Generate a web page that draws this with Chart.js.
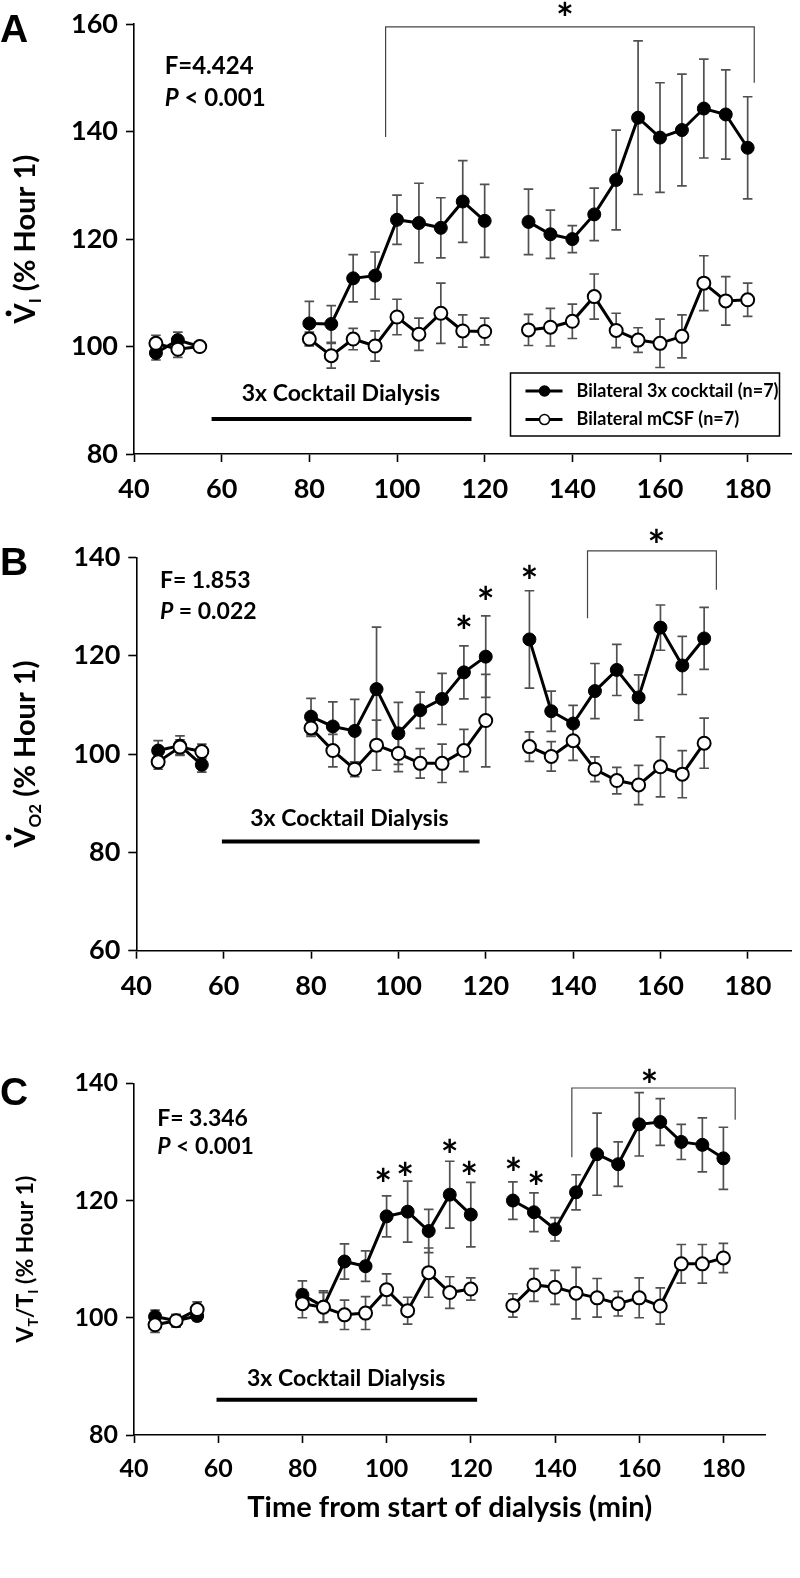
<!DOCTYPE html>
<html>
<head>
<meta charset="utf-8">
<script src="https://cdn.jsdelivr.net/npm/chart.js@4.4.1/dist/chart.umd.min.js"></script>
<style>
  html, body { margin: 0; padding: 0; background: #fff; }
  body { width: 800px; height: 1578px; position: relative; overflow: hidden; }
  canvas { position: absolute; left: 0; }
</style>
</head>
<body>
<canvas id="panelA" width="800" height="505" style="top:0px"></canvas>
<canvas id="panelB" width="800" height="510" style="top:505px"></canvas>
<canvas id="panelC" width="800" height="563" style="top:1015px"></canvas>
<script>
// ── data (% of hour 1, mean ± SE) ──────────────────────────────────
const xTicks = [40, 60, 80, 100, 120, 140, 160, 180];

const timeA = [45, 50, 55, 80, 85, 90, 95, 100, 105, 110, 115, 120, 130, 135, 140, 145, 150, 155, 160, 165, 170, 175, 180];
const cocktailA    = [98.8, 101.2, 100.0, 104.3, 104.2, 112.7, 113.2, 123.6, 123.0, 122.1, 127.0, 123.4, 123.2, 120.9, 120.0, 124.6, 131.0, 142.6, 138.9, 140.3, 144.3, 143.2, 137.0];
const cocktailErrA = [1.3, 1.5, 0.5, 4.1, 3.4, 4.4, 4.4, 4.6, 7.4, 5.6, 7.6, 6.8, 6.1, 4.5, 2.5, 4.9, 9.3, 14.3, 10.2, 10.4, 9.2, 8.3, 9.5];
const mcsfA        = [100.6, 99.5, 100.0, 101.4, 98.3, 101.4, 100.1, 105.5, 102.3, 106.2, 102.9, 102.8, 103.1, 103.6, 104.7, 109.3, 103.0, 101.2, 100.6, 101.9, 111.8, 108.5, 108.7];
const mcsfErrA     = [1.5, 1.5, 0.3, 1.3, 2.3, 2.0, 2.8, 3.3, 3.0, 5.6, 3.0, 2.5, 2.9, 3.5, 3.2, 4.2, 3.2, 2.3, 4.5, 4.0, 5.1, 4.5, 3.1];
const yTicksA = [80, 100, 120, 140, 160];

const timeB = [45, 50, 55, 80, 85, 90, 95, 100, 105, 110, 115, 120, 130, 135, 140, 145, 150, 155, 160, 165, 170];
const cocktailB    = [100.7, 101.7, 97.8, 107.6, 105.6, 104.7, 113.2, 104.2, 108.9, 111.2, 116.6, 119.8, 123.3, 108.7, 106.2, 112.8, 117.1, 111.5, 125.7, 118.0, 123.5];
const cocktailErrB = [2.0, 2.0, 1.5, 3.7, 5.0, 6.4, 12.6, 6.3, 3.7, 5.2, 5.4, 8.3, 9.9, 4.1, 3.7, 5.6, 5.2, 4.6, 4.6, 5.9, 6.3];
const mcsfB        = [98.4, 101.4, 100.5, 105.3, 100.7, 96.9, 101.8, 100.1, 98.1, 98.1, 100.7, 106.8, 101.5, 99.5, 102.7, 96.9, 94.6, 93.7, 97.4, 95.9, 102.2];
const mcsfErrB     = [1.5, 1.5, 1.5, 1.7, 3.3, 1.5, 5.1, 3.7, 3.0, 3.9, 4.3, 9.4, 3.0, 3.0, 4.0, 2.5, 2.7, 4.0, 6.1, 4.8, 5.1];
const yTicksB = [60, 80, 100, 120, 140];

const timeC = [45, 50, 55, 80, 85, 90, 95, 100, 105, 110, 115, 120, 130, 135, 140, 145, 150, 155, 160, 165, 170, 175, 180];
const cocktailC    = [100.2, 99.5, 100.3, 103.9, 101.9, 109.6, 108.8, 117.3, 118.1, 114.8, 121.0, 117.6, 120.0, 118.0, 115.1, 121.4, 127.9, 126.2, 133.0, 133.4, 130.0, 129.5, 127.2];
const cocktailErrC = [1.1, 1.1, 0.8, 2.4, 2.7, 3.0, 2.6, 3.5, 5.2, 3.7, 5.7, 5.5, 3.2, 3.3, 2.0, 3.0, 7.0, 3.8, 5.4, 4.0, 3.0, 4.6, 5.3];
const mcsfC        = [98.8, 99.5, 101.4, 102.4, 101.8, 100.5, 100.8, 104.8, 101.2, 107.7, 104.3, 104.9, 102.1, 105.6, 105.2, 104.2, 103.4, 102.4, 103.4, 102.0, 109.2, 109.2, 110.2];
const mcsfErrC     = [1.3, 1.0, 1.3, 2.4, 2.5, 2.5, 2.8, 2.7, 2.3, 4.2, 2.7, 1.9, 2.0, 2.8, 2.9, 4.4, 3.3, 2.1, 3.4, 3.1, 3.3, 3.3, 2.5];
const yTicksC = [80, 100, 120, 140];

const FONT = "Lato, 'Open Sans', sans-serif";

// points with a null break where sampling pauses (gap > 5 min)
function buildPoints(times, vals, errs) {
  const pts = [];
  times.forEach((t, i) => {
    if (i > 0 && t - times[i - 1] > 5) pts.push({ x: (t + times[i - 1]) / 2, y: null, err: 0 });
    pts.push({ x: t, y: vals[i], err: errs[i] });
  });
  return pts;
}

// ── error bars behind the lines ───────────────────────────────────
const errorBars = {
  id: "errorBars",
  beforeDatasetsDraw(chart) {
    const ctx = chart.ctx, ys = chart.scales.y;
    ctx.save();
    ctx.strokeStyle = "#505050";
    ctx.lineWidth = 1.7;
    chart.data.datasets.forEach((ds, di) => {
      chart.getDatasetMeta(di).data.forEach((el, i) => {
        const p = ds.data[i];
        if (p.y == null) return;
        const top = ys.getPixelForValue(p.y + p.err), bot = ys.getPixelForValue(p.y - p.err);
        ctx.beginPath();
        ctx.moveTo(el.x, top); ctx.lineTo(el.x, bot);
        ctx.moveTo(el.x - 4.8, top); ctx.lineTo(el.x + 4.8, top);
        ctx.moveTo(el.x - 4.8, bot); ctx.lineTo(el.x + 4.8, bot);
        ctx.stroke();
      });
    });
    ctx.restore();
  }
};

function drawStar(ctx, x, y, size) {
  ctx.font = `bold ${size}px ${FONT}`;
  ctx.textAlign = "center";
  ctx.textBaseline = "alphabetic";
  ctx.fillText("*", x, y + size * 0.57);
}

function drawParts(ctx, parts, x, y, size) {
  ctx.textAlign = "left";
  ctx.textBaseline = "middle";
  parts.forEach(p => {
    ctx.font = `${p.i ? "italic " : ""}bold ${size}px ${FONT}`;
    ctx.fillText(p.t, x, y);
    x += ctx.measureText(p.t).width;
  });
}

function drawYTitle(ctx, cx, cy, parts, size, dot) {
  ctx.save();
  ctx.translate(cx, cy);
  ctx.rotate(-Math.PI / 2);
  const sub = Math.round(size * 0.6);
  let total = 0;
  parts.forEach(p => {
    ctx.font = `bold ${p.sub ? sub : size}px ${FONT}`;
    p.w = ctx.measureText(p.t).width;
    total += p.w;
  });
  let x = -total / 2;
  const base = size * 0.36;
  ctx.textAlign = "left";
  ctx.textBaseline = "alphabetic";
  ctx.fillStyle = "#000";
  parts.forEach((p, i) => {
    ctx.font = `bold ${p.sub ? sub : size}px ${FONT}`;
    ctx.fillText(p.t, x, base + (p.sub ? size * 0.2 : 0));
    if (i === 0 && dot) {
      ctx.beginPath();
      ctx.arc(x + p.w / 2, base - size * 0.72 - 6, 2.9, 0, 2 * Math.PI);
      ctx.fill();
    }
    x += p.w;
  });
  ctx.restore();
}

// ── per-panel annotations (letters, stats, dialysis bar, asterisks) ─
function makeNotes(p) {
  return {
    id: "notes",
    afterDraw(chart) {
      const ctx = chart.ctx, xs = chart.scales.x, ys = chart.scales.y, a = chart.chartArea;
      const X = v => xs.getPixelForValue(v), Y = v => ys.getPixelForValue(v);
      ctx.save();
      ctx.fillStyle = "#000";

      ctx.font = "bold 39px 'Liberation Sans', Arial, sans-serif";
      ctx.textAlign = "left"; ctx.textBaseline = "alphabetic";
      ctx.fillText(p.letter, 0, p.letterY);

      drawYTitle(ctx, 25, (a.top + a.bottom) / 2, p.yTitle, p.yTitleSize, p.dot);

      drawParts(ctx, p.stats.line1, X(p.stats.x), Y(p.stats.y1), p.statSize);
      drawParts(ctx, p.stats.line2, X(p.stats.x), Y(p.stats.y2), p.statSize);

      // dialysis period
      ctx.strokeStyle = "#000"; ctx.lineWidth = 4;
      ctx.beginPath();
      ctx.moveTo(X(p.dialysis.x1), Y(p.dialysis.y));
      ctx.lineTo(X(p.dialysis.x2), Y(p.dialysis.y));
      ctx.stroke();
      ctx.font = `bold ${p.dialSize}px ${FONT}`;
      ctx.textAlign = "center"; ctx.textBaseline = "middle";
      ctx.fillText("3x Cocktail Dialysis", X(p.dialysis.tx), Y(p.dialysis.ty));

      p.stars.forEach(s => drawStar(ctx, X(s[0]), Y(s[1]), 42));

      const b = p.bracket;
      ctx.strokeStyle = "#444"; ctx.lineWidth = 1.2;
      ctx.beginPath();
      ctx.moveTo(X(b.x1), Y(b.left)); ctx.lineTo(X(b.x1), Y(b.top));
      ctx.lineTo(X(b.x2), Y(b.top)); ctx.lineTo(X(b.x2), Y(b.right));
      ctx.stroke();
      drawStar(ctx, X(b.sx), Y(b.sy), 42);

      if (p.legend) {
        const lx = a.right - 281, ly = a.bottom - 81;
        ctx.strokeStyle = "#000"; ctx.lineWidth = 1.5;
        ctx.strokeRect(lx, ly, 269, 63);
        chart.data.datasets.forEach((ds, i) => {
          const y = ly + 18 + i * 28.6;
          ctx.lineWidth = 3;
          ctx.beginPath(); ctx.moveTo(lx + 15, y); ctx.lineTo(lx + 52, y); ctx.stroke();
          ctx.beginPath(); ctx.arc(lx + 34, y, 5, 0, 2 * Math.PI);
          ctx.fillStyle = ds.pointBackgroundColor; ctx.fill();
          ctx.lineWidth = 1.5; ctx.stroke();
          ctx.fillStyle = "#000";
          ctx.font = `bold 18px ${FONT}`;
          ctx.textAlign = "left"; ctx.textBaseline = "middle";
          ctx.fillText(ds.label, lx + 66, y);
        });
      }
      ctx.restore();
    }
  };
}

function makePanel(id, p) {
  const axisLine = { display: true, color: "#000", width: 1.6 };
  const grid = { drawOnChartArea: false, drawTicks: true, tickLength: 8, tickWidth: 1.6, tickColor: "#000", color: "#000" };
  const tickFont = { family: FONT, size: p.tickSize, weight: "bold" };
  return new Chart(document.getElementById(id), {
    type: "line",
    data: {
      datasets: [
        {
          label: "Bilateral 3x cocktail (n=7)",
          data: buildPoints(p.times, p.cocktail, p.cocktailErr),
          borderColor: "#000", backgroundColor: "#000",
          pointBackgroundColor: "#000", pointBorderColor: "#000",
          pointRadius: 6.5, pointBorderWidth: 1, borderWidth: 3, order: 1
        },
        {
          label: "Bilateral mCSF (n=7)",
          data: buildPoints(p.times, p.mcsf, p.mcsfErr),
          borderColor: "#000", backgroundColor: "#fff",
          pointBackgroundColor: "#fff", pointBorderColor: "#000",
          pointRadius: 6.5, pointBorderWidth: 2, borderWidth: 3, order: 0
        }
      ]
    },
    options: {
      responsive: false, animation: false, spanGaps: false,
      layout: { padding: p.pad },
      plugins: { legend: { display: false }, tooltip: { enabled: false } },
      scales: {
        x: {
          type: "linear", min: 40, max: 190,
          afterBuildTicks: s => { s.ticks = xTicks.map(v => ({ value: v })); },
          afterFit: s => { s.height = p.xH; },
          grid, border: axisLine,
          ticks: { font: tickFont, color: "#000", padding: 11, maxRotation: 0 },
          title: p.xTitle || { display: false }
        },
        y: {
          type: "linear", min: p.yTicks[0], max: p.yTicks[p.yTicks.length - 1],
          afterBuildTicks: s => { s.ticks = p.yTicks.map(v => ({ value: v })); },
          afterFit: s => { s.width = p.yW; },
          grid, border: axisLine,
          ticks: { font: tickFont, color: "#000", padding: 8 }
        }
      }
    },
    plugins: [errorBars, makeNotes(p)]
  });
}

makePanel("panelA", {
  times: timeA, cocktail: cocktailA, cocktailErr: cocktailErrA, mcsf: mcsfA, mcsfErr: mcsfErrA, yTicks: yTicksA,
  pad: { top: 24, left: 0, right: 6, bottom: 0 }, yW: 134, xH: 51, tickSize: 27,
  letter: "A", letterY: 42, dot: true, yTitleSize: 29,
  yTitle: [{ t: "V" }, { t: "I", sub: true }, { t: " (% Hour 1)" }],
  statSize: 24, dialSize: 23,
  stats: { x: 47, y1: 152.1, y2: 146.2, line1: [{ t: "F=4.424" }], line2: [{ t: "P", i: true }, { t: " < 0.001" }] },
  dialysis: { x1: 57.7, x2: 117, y: 86.5, tx: 87.2, ty: 91.3 },
  stars: [],
  bracket: { x1: 97.4, x2: 181.5, top: 159.5, left: 139.0, right: 149.1, sx: 138.3, sy: 162.6 },
  legend: true
});

makePanel("panelB", {
  times: timeB, cocktail: cocktailB, cocktailErr: cocktailErrB, mcsf: mcsfB, mcsfErr: mcsfErrB, yTicks: yTicksB,
  pad: { top: 52.3, left: 0, right: 0, bottom: 0 }, yW: 136.3, xH: 64.3, tickSize: 27,
  letter: "B", letterY: 70, dot: true, yTitleSize: 29,
  yTitle: [{ t: "V" }, { t: "O2", sub: true }, { t: " (% Hour 1)" }],
  statSize: 23, dialSize: 23,
  stats: { x: 45.4, y1: 135.2, y2: 128.9, line1: [{ t: "F= 1.853" }], line2: [{ t: "P", i: true }, { t: " = 0.022" }] },
  dialysis: { x1: 59.6, x2: 118.6, y: 82.2, tx: 88.8, ty: 86.9 },
  stars: [[115, 126.6], [120, 132.5], [130, 136.7]],
  bracket: { x1: 143.3, x2: 172.8, top: 141.3, left: 127.6, right: 133.4, sx: 159.1, sy: 144.2 }
});

makePanel("panelC", {
  times: timeC, cocktail: cocktailC, cocktailErr: cocktailErrC, mcsf: mcsfC, mcsfErr: mcsfErrC, yTicks: yTicksC,
  pad: { top: 68.3, left: 0, right: 34.5, bottom: 0 }, yW: 134, xH: 143, tickSize: 25,
  letter: "C", letterY: 90, dot: false, yTitleSize: 23,
  yTitle: [{ t: "V" }, { t: "T", sub: true }, { t: "/T" }, { t: "I", sub: true }, { t: " (% Hour 1)" }],
  statSize: 23, dialSize: 23,
  stats: { x: 45.5, y1: 134.0, y2: 129.2, line1: [{ t: "F= 3.346" }], line2: [{ t: "P", i: true }, { t: " < 0.001" }] },
  dialysis: { x1: 59.6, x2: 121.5, y: 86.0, tx: 90.4, ty: 89.7 },
  stars: [[99.2, 124.1], [104.4, 125.2], [115, 129.2], [119.6, 125.4], [130.1, 126.1], [135.5, 123.7]],
  bracket: { x1: 144, x2: 182.8, top: 139.2, left: 127.4, right: 133.8, sx: 162.4, sy: 141.0 },
  xTitle: {
    display: true, text: "Time from start of dialysis (min)", color: "#000",
    font: { family: FONT, size: 29, weight: "bold" }, padding: { top: 0, bottom: 53 }
  }
});
</script>
</body>
</html>
